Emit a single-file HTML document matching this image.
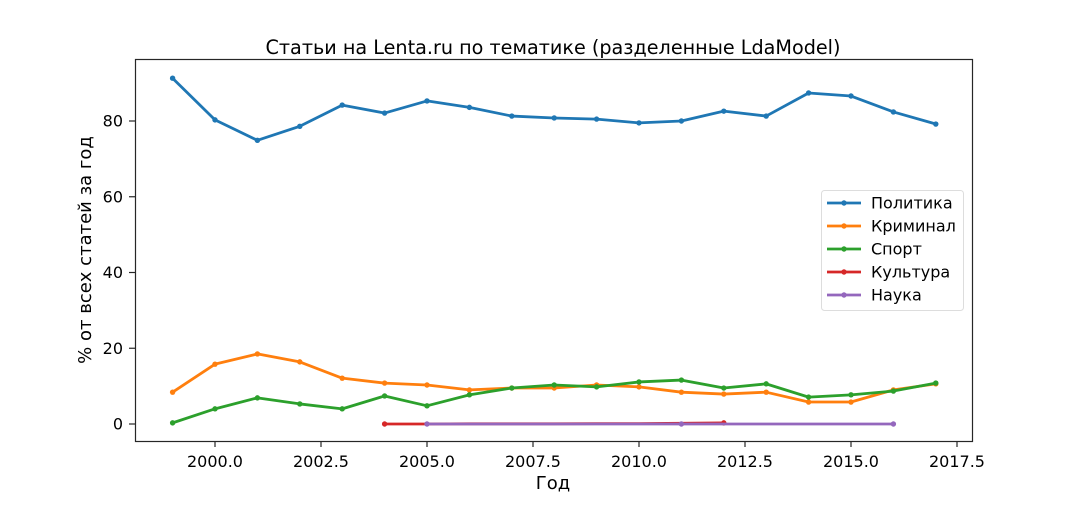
<!DOCTYPE html>
<html><head><meta charset="utf-8"><style>
body{margin:0;background:#fff;}
svg text{font-family:"DejaVu Sans","Liberation Sans",sans-serif;fill:#000;}
</style></head><body>
<svg id="s" width="1080" height="504" xmlns="http://www.w3.org/2000/svg">
<rect width="1080" height="504" fill="#fff"/>
<text x="553" y="54" font-size="19.2" text-anchor="middle">Статьи на Lenta.ru по тематике (разделенные LdaModel)</text>
<g id="plot"></g>
<rect x="135.5" y="59.5" width="837" height="382" fill="none" stroke="#262626" stroke-width="1.2"/>
<text x="553" y="489" font-size="18" text-anchor="middle">Год</text>
<text transform="translate(91,250) rotate(-90)" font-size="18" text-anchor="middle">% от всех статей за год</text>
<g id="legend">
<rect x="821.5" y="190.5" width="142" height="120" rx="3" fill="#fff" fill-opacity="0.8" stroke="#ddd"/>
</g>
</svg>
<script>
const NS="http://www.w3.org/2000/svg";
const X=y=>215+42.4*(y-2000), Y=v=>424-3.7875*v;
const p=document.getElementById('plot'), s=document.getElementById('s'), lg=document.getElementById('legend');
function el(t,a,par){const e=document.createElementNS(NS,t);for(const k in a)e.setAttribute(k,a[k]);(par||p).appendChild(e);return e;}
[2000,2002.5,2005,2007.5,2010,2012.5,2015,2017.5].forEach(v=>{const x=X(v);el('line',{x1:x,x2:x,y1:441,y2:447,stroke:'#262626','stroke-width':1.2},s);const t=el('text',{x:x,y:467,'font-size':16,'text-anchor':'middle'},s);t.textContent=v.toFixed(1);});
[0,20,40,60,80].forEach(v=>{const y=Y(v);el('line',{x1:129,x2:135,y1:y,y2:y,stroke:'#262626','stroke-width':1.2},s);const t=el('text',{x:123,y:y+5.5,'font-size':16,'text-anchor':'end'},s);t.textContent=v;});
const series=[
["#1f77b4",1999,[91.3,80.3,74.9,78.6,84.2,82.1,85.3,83.6,81.3,80.8,80.5,79.5,80,82.6,81.3,87.4,86.6,82.4,79.2],"Политика",null],
["#ff7f0e",1999,[8.4,15.8,18.5,16.4,12.1,10.8,10.3,9,9.5,9.5,10.3,9.8,8.4,7.9,8.4,5.8,5.8,9,10.6],"Криминал",null],
["#2ca02c",1999,[0.3,4,6.9,5.3,4,7.4,4.8,7.7,9.5,10.3,9.8,11.1,11.6,9.5,10.6,7.1,7.7,8.7,10.8],"Спорт",null],
["#d62728",2004,[0,0,0.05,0.05,0.05,0.1,0.1,0.2,0.3],"Культура",[0,8]],
["#9467bd",2005,[0,0,0,0,0,0,0,0,0,0,0,0],"Наука",[0,6,11]]];
series.forEach((sr,i)=>{const [c,st,d,name,mk]=sr;
 const pts=d.map((v,j)=>[X(st+j),Y(v)]);
 el('polyline',{points:pts.map(q=>q.join(',')).join(' '),fill:'none',stroke:c,'stroke-width':2.8,'stroke-linejoin':'round'});
 pts.forEach((q,j)=>{if(!mk||mk.includes(j))el('circle',{cx:q[0],cy:q[1],r:2.7,fill:c});});
 const ly=203+i*23;
 el('line',{x1:827,x2:861,y1:ly,y2:ly,stroke:c,'stroke-width':2.8},lg);
 el('circle',{cx:844,cy:ly,r:2.7,fill:c},lg);
 const t=el('text',{x:871,y:ly+5.5,'font-size':16},lg);t.textContent=name;
});
</script>
</body></html>
